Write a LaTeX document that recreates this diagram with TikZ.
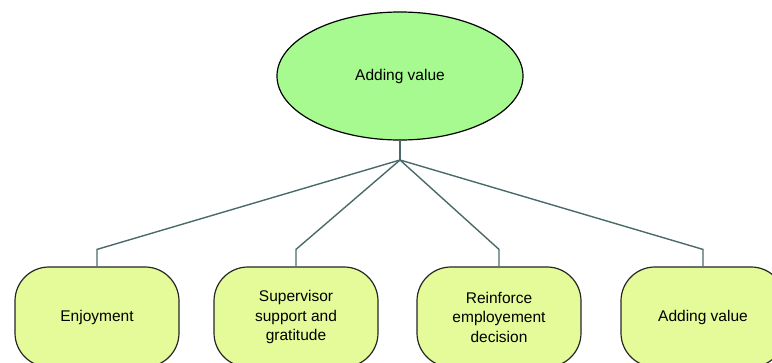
\documentclass[tikz,border=0pt]{standalone}
\usepackage{fontspec}
\setmainfont{Liberation Sans}
\usetikzlibrary{shapes.geometric}
\definecolor{topfill}{RGB}{166,250,144}
\definecolor{leaffill}{RGB}{229,250,152}
\definecolor{linkcol}{RGB}{74,106,106}
\tikzset{
  topic/.style={ellipse, draw=black, line width=1.2pt, fill=topfill,
    minimum width=246pt, minimum height=128pt, inner sep=0pt,
    font=\fontsize{15.5}{19}\selectfont},
  leaf/.style={rectangle, rounded corners=34pt, draw=black!85, line width=1.2pt,
    fill=leaffill, minimum width=164pt, minimum height=100pt, inner sep=0pt,
    align=center, font=\fontsize{15.5}{19.5}\selectfont},
  link/.style={draw=linkcol, line width=1.4pt}
}
\begin{document}
\begin{tikzpicture}[x=1pt, y=-1pt]
  \useasboundingbox (0,0) rectangle (772,363);
  \clip (0,0) rectangle (772,363);

  % central idea
  \node[topic] (top) at (400,76) {Adding value};
  \coordinate (hub) at (400,160);

  % four branches
  \node[leaf] (b1) at (97,317)  {Enjoyment};
  \node[leaf] (b2) at (296,317) {Supervisor\\support and\\gratitude};
  \node[leaf] (b3) at (499,317) {Reinforce\\employement\\decision};
  \node[leaf] (b4) at (703,317) {Adding value};

  % connectors
  \draw[link] (top.south) -- (hub);
  \foreach \b in {b1,b2,b3,b4}
    \draw[link] (hub) -- ([yshift=17pt]\b.north) -- (\b.north);
\end{tikzpicture}
\end{document}
